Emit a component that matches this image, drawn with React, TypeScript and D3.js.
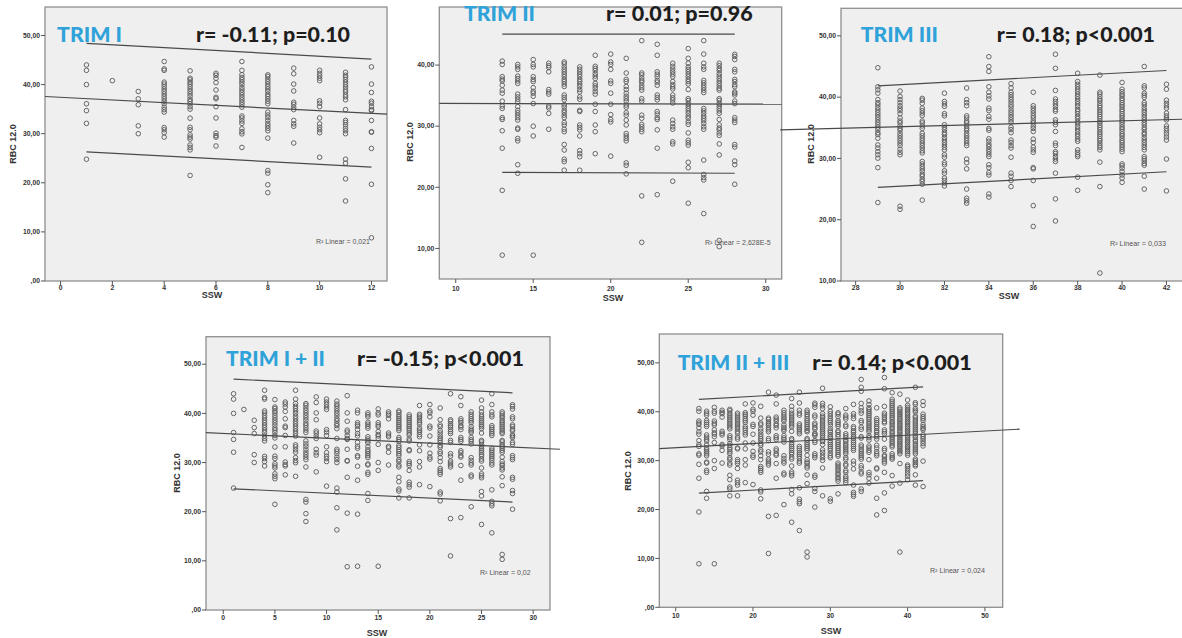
import React from "react";
import * as d3 from "d3";

type Col = [number, number[]];

// ---------- DATA (SSW week, RBC 12.0 values) ----------
const TRIM1: Col[] = [
  [1, [44.0, 42.9, 40.0, 36.1, 34.7, 32.1, 24.8]],
  [2, [40.8]],
  [3, [38.6, 37.1, 35.9, 31.6, 30.0]],
  [4, [44.7, 43.2, 42.9, 40.5, 40.1, 39.6, 39.1, 38.6, 38.1, 37.6, 37.1, 36.6, 36.1, 35.4, 34.9, 34.4, 31.25, 30.8, 30.2, 29.3]],
  [5, [42.8, 41.3, 40.97, 40.5, 40.1, 39.6, 39.1, 38.6, 38.1, 37.6, 37.0, 36.6, 36.1, 35.5, 35.0, 33.16, 31.3, 30.8, 29.76, 29.3, 28.9, 27.7, 27.2, 26.7, 21.5]],
  [6, [42.3, 41.9, 41.3, 40.4, 38.9, 37.4, 37.1, 35.5, 33.2, 30.1, 29.6, 29.3, 27.5]],
  [7, [44.7, 42.9, 42.0, 41.45, 41.0, 40.5, 40.0, 39.4, 38.9, 38.4, 37.9, 37.4, 36.9, 36.4, 35.9, 35.4, 33.6, 33.2, 32.6, 32.1, 31.0, 30.4, 29.96, 27.2]],
  [8, [41.99, 41.65, 41.1, 40.6, 40.1, 39.6, 39.1, 38.6, 38.0, 37.6, 37.1, 36.6, 36.1, 34.4, 33.8, 33.3, 32.7, 32.1, 31.6, 31.1, 30.6, 29.1, 22.5, 21.97, 19.6, 18.0]],
  [9, [43.35, 42.2, 40.1, 38.7, 36.4, 36.0, 35.4, 34.9, 32.7, 32.0, 31.5, 28.1]],
  [10, [42.9, 42.3, 41.8, 41.3, 40.8, 36.7, 36.2, 35.5, 33.2, 32.0, 31.3, 30.8, 30.2, 25.2]],
  [11, [42.5, 41.9, 41.5, 41.0, 40.5, 40.0, 39.5, 38.9, 38.5, 37.9, 37.5, 36.9, 34.9, 32.7, 32.3, 31.8, 31.1, 30.6, 30.0, 24.8, 24.0, 20.8, 16.3]],
  [12, [43.6, 40.1, 38.4, 36.6, 36.2, 35.5, 34.9, 34.7, 32.7, 30.4, 30.3, 27.0, 19.7, 8.8]],
];

const TRIM2: Col[] = [
  [13, [40.65, 40.1, 38.1, 37.7, 37.4, 36.7, 35.9, 35.4, 34.1, 33.3, 32.9, 31.4, 31.1, 29.25, 26.4, 19.5, 8.9]],
  [14, [40.1, 39.7, 39.3, 38.2, 37.8, 37.4, 37.0, 35.25, 34.8, 34.4, 34.0, 33.2, 32.6, 32.2, 31.8, 31.4, 31.0, 29.7, 29.5, 28.0, 27.6, 23.7, 22.3]],
  [15, [40.9, 40.1, 39.7, 38.1, 37.65, 37.3, 36.3, 35.7, 35.4, 34.9, 33.7, 30.0, 28.4, 8.9]],
  [16, [40.3, 39.9, 39.6, 38.9, 36.0, 35.6, 35.25, 33.3, 33.0, 32.1, 29.5]],
  [17, [40.5, 40.2, 39.7, 39.3, 38.9, 38.5, 38.1, 37.65, 37.3, 36.9, 36.5, 35.1, 34.7, 34.3, 33.5, 33.1, 32.6, 32.25, 31.8, 31.4, 30.6, 30.2, 29.5, 29.1, 27.0, 26.1, 24.6, 24.2, 22.8]],
  [18, [39.7, 39.3, 38.9, 38.5, 38.1, 37.65, 37.3, 36.9, 36.5, 36.0, 35.6, 34.8, 34.4, 32.6, 32.4, 30.2, 29.8, 29.4, 28.4, 26.0, 25.5, 25.0, 22.8]],
  [19, [41.6, 39.8, 39.45, 39.1, 38.6, 38.2, 37.8, 37.0, 36.6, 36.2, 35.7, 35.25, 33.6, 32.4, 30.2, 29.1, 25.5]],
  [20, [41.8, 40.5, 40.1, 39.3, 37.4, 37.0, 35.4, 33.6, 31.9, 31.1, 30.7, 25.1]],
  [21, [41.1, 38.7, 37.65, 37.3, 36.5, 36.0, 35.4, 34.9, 34.5, 34.1, 33.45, 33.1, 32.2, 31.8, 31.0, 30.2, 28.8, 28.4, 28.0, 27.6, 24.0, 23.6, 22.2]],
  [22, [44.0, 38.7, 38.4, 37.9, 37.5, 37.2, 36.7, 36.3, 35.9, 34.5, 34.1, 31.8, 31.3, 30.3, 29.9, 29.5, 29.1, 18.6, 11.0]],
  [23, [43.4, 41.6, 38.9, 38.5, 38.1, 37.5, 37.2, 36.7, 35.1, 34.7, 34.3, 32.4, 32.0, 31.4, 31.1, 29.4, 26.4, 18.8]],
  [24, [40.3, 39.8, 39.35, 38.9, 38.5, 38.1, 37.3, 36.8, 36.45, 36.1, 35.1, 34.65, 34.3, 33.8, 31.0, 30.45, 29.9, 29.5, 27.45, 27.1, 21.0]],
  [25, [42.7, 41.1, 40.3, 39.7, 39.3, 38.9, 38.5, 38.1, 37.65, 37.3, 36.9, 36.0, 34.5, 34.2, 33.7, 33.3, 32.9, 32.5, 32.1, 31.65, 31.3, 30.7, 30.3, 28.9, 27.7, 27.3, 26.9, 24.1, 23.2, 17.4]],
  [26, [44.0, 41.8, 40.3, 39.7, 39.3, 37.5, 37.1, 36.7, 36.3, 35.9, 35.5, 32.9, 32.5, 32.1, 31.65, 31.3, 30.9, 30.45, 29.9, 29.5, 24.45, 22.1, 21.6, 21.2, 15.7]],
  [27, [40.3, 39.9, 39.45, 39.1, 38.6, 38.2, 37.8, 37.4, 37.0, 36.6, 36.2, 35.9, 34.5, 34.2, 33.7, 33.3, 32.9, 32.5, 32.1, 31.1, 30.2, 29.7, 29.4, 28.9, 28.5, 27.1, 25.3, 11.3, 10.3]],
  [28, [41.75, 41.4, 40.9, 39.3, 38.9, 37.65, 37.3, 36.8, 36.45, 35.6, 35.4, 35.1, 34.1, 33.7, 31.4, 31.0, 30.6, 27.0, 26.6, 24.3, 23.7, 20.5]],
];

const TRIM3: Col[] = [
  [29, [44.8, 41.7, 41.2, 40.65, 39.6, 39.1, 38.75, 38.3, 37.9, 37.5, 37.1, 36.7, 36.3, 35.9, 35.5, 35.1, 34.7, 34.2, 33.9, 33.3, 32.2, 31.7, 31.1, 30.6, 30.05, 28.5, 22.8]],
  [30, [41.0, 40.1, 39.6, 39.1, 38.6, 38.2, 37.8, 37.3, 36.6, 36.1, 35.8, 35.3, 34.9, 34.6, 34.1, 33.7, 33.3, 32.9, 32.5, 32.1, 31.5, 31.0, 30.6, 22.2, 21.7]],
  [31, [39.8, 39.5, 39.0, 38.2, 37.8, 37.4, 37.0, 36.1, 35.8, 35.3, 34.9, 34.1, 33.7, 33.3, 32.9, 32.5, 32.1, 31.7, 31.25, 30.9, 29.5, 29.1, 28.7, 28.3, 27.9, 27.4, 27.1, 26.6, 26.25, 25.8, 23.2]],
  [32, [40.65, 39.3, 38.9, 38.5, 37.3, 36.95, 35.5, 35.1, 34.7, 34.2, 33.9, 33.4, 33.0, 32.6, 32.2, 31.8, 31.4, 30.6, 30.2, 29.3, 28.97, 27.99, 27.6, 26.8, 26.4, 25.98, 25.5]],
  [33, [41.5, 39.6, 39.1, 38.6, 36.95, 36.6, 36.1, 35.8, 35.3, 34.9, 34.6, 34.1, 33.7, 33.3, 32.9, 32.5, 32.1, 29.9, 29.3, 28.3, 25.0, 23.5, 23.1, 22.7]],
  [34, [46.6, 45.0, 44.2, 41.7, 40.8, 40.2, 39.7, 38.2, 37.8, 36.85, 36.4, 34.9, 34.6, 33.2, 32.8, 32.3, 31.95, 31.5, 31.1, 30.7, 30.3, 28.97, 28.5, 27.7, 27.3, 24.2, 23.7]],
  [35, [42.2, 41.5, 40.8, 40.4, 40.0, 39.6, 39.2, 38.75, 38.4, 37.9, 37.5, 37.1, 36.7, 36.3, 35.9, 35.1, 34.7, 34.2, 33.0, 32.6, 32.1, 31.7, 30.2, 27.6, 27.1, 26.4, 25.4]],
  [36, [40.8, 38.6, 38.2, 37.8, 37.4, 36.95, 36.6, 36.1, 35.8, 35.3, 34.9, 34.4, 33.15, 32.6, 31.85, 31.4, 31.0, 28.5, 28.3, 26.4, 22.3, 18.9]],
  [37, [47.0, 44.7, 41.1, 39.7, 39.3, 38.9, 38.5, 38.0, 37.7, 36.3, 35.9, 35.5, 34.4, 32.5, 32.1, 31.1, 30.8, 30.3, 29.9, 29.5, 27.6, 23.4, 19.8]],
  [38, [43.9, 42.55, 42.1, 41.7, 41.3, 40.9, 40.5, 40.1, 39.7, 39.3, 38.9, 38.5, 38.0, 37.7, 37.3, 36.85, 36.5, 36.0, 35.65, 35.2, 34.8, 34.4, 33.97, 33.6, 33.15, 32.8, 31.4, 30.98, 30.6, 30.3, 26.95, 24.8]],
  [39, [43.6, 40.8, 40.5, 40.1, 39.7, 39.4, 39.0, 38.6, 38.3, 37.9, 37.55, 37.2, 36.85, 36.5, 36.1, 35.8, 35.4, 35.05, 34.7, 34.3, 33.97, 33.6, 33.2, 32.9, 32.5, 32.1, 31.8, 31.4, 29.4, 25.4, 11.3]],
  [40, [42.4, 41.3, 40.9, 40.5, 40.2, 39.8, 39.5, 39.1, 38.75, 38.4, 38.0, 37.7, 37.3, 36.95, 36.6, 36.2, 35.9, 35.5, 35.1, 34.8, 34.4, 34.0, 33.7, 33.3, 32.9, 32.6, 32.2, 31.85, 31.5, 31.1, 29.1, 28.8, 28.4, 27.9, 27.3, 26.8, 26.1]],
  [41, [45.0, 41.85, 41.5, 40.65, 40.3, 39.95, 39.1, 38.75, 38.3, 37.9, 37.5, 37.1, 36.7, 36.3, 35.9, 35.5, 35.05, 34.7, 34.2, 33.9, 33.4, 33.0, 32.6, 32.2, 31.8, 31.4, 30.3, 29.95, 29.6, 29.2, 28.9, 27.1, 25.0]],
  [42, [42.1, 41.3, 39.5, 39.0, 38.6, 38.2, 37.4, 36.95, 36.6, 36.3, 35.3, 34.9, 34.5, 34.0, 33.5, 33.0, 29.9, 24.7]],
];

const TRIM12: Col[] = [...TRIM1, ...TRIM2];
const TRIM23: Col[] = [...TRIM2, ...TRIM3];

// fit lines: [x0, y0, x1, y1] in data units (mean line, upper & lower 95% lines)
const FIT1 = { mean: [-0.6, 37.57, 12.6, 33.97], upper: [1, 48.4, 12, 45.2], lower: [1, 26.3, 12, 23.2] };
const FIT2 = { mean: [8.94, 33.73, 31.03, 33.6], upper: [13, 45.07, 28, 45.07], lower: [13, 22.44, 28, 22.3] };
const FIT3 = { mean: [24.6, 34.67, 42.79, 36.4], upper: [29, 41.85, 42, 44.35], lower: [29, 25.27, 42, 27.83] };
const FIT12 = { mean: [-1.67, 36.08, 32.6, 32.7], upper: [1, 46.96, 28, 44.19], lower: [1, 24.66, 28, 21.96] };
const FIT23 = { mean: [7.88, 32.47, 54.5, 36.44], upper: [13, 42.53, 42, 45.07], lower: [13, 23.36, 42, 25.89] };

const TITLES = ["TRIM I", "TRIM II", "TRIM III", "TRIM I + II", "TRIM II + III"];
const STATS = ["r= -0.11; p=0.10", "r= 0.01; p=0.96", "r= 0.18; p<0.001", "r= -0.15; p<0.001", "r= 0.14; p<0.001"];
const R2 = ["0,021", "2,628E-5", "0,033", "0,02", "0,024"];
const XTICKS = [[0, 2, 4, 6, 8, 10, 12], [10, 15, 20, 25, 30], [28, 30, 32, 34, 36, 38, 40, 42], [0, 5, 10, 15, 20, 25, 30], [10, 20, 30, 40, 50]];
const YTICKS = [[0, 10, 20, 30, 40, 50], [10, 20, 30, 40], [10, 20, 30, 40, 50], [0, 10, 20, 30, 40, 50], [0, 10, 20, 30, 40, 50]];

// ---------- LAYOUT ----------
const LAYOUT = [
  { data: TRIM1, fit: FIT1, box: [45, 7, 387, 281], xd: [-0.6, 12.6], yd: [0, 55.8],
    title: { x: 57, y: 41.7, w: 65, fs: 21 }, stat: { x: 196, y: 41.7, w: 154 },
    r2: { x: 316, y: 244, w: 54 }, ylab: { x: 15.5, y: 144 }, xlab: { x: 212, y: 297.5 }, xtY: 290 },
  { data: TRIM2, fit: FIT2, box: [439.3, 7, 781.7, 279], xd: [8.94, 31.03], yd: [5, 49.5],
    title: { x: 464, y: 20.7, w: 71, fs: 20 }, stat: { x: 606, y: 20.7, w: 146.7 },
    r2: { x: 705, y: 244.5, w: 65.7 }, ylab: { x: 413, y: 142 }, xlab: { x: 613, y: 301 }, xtY: 291 },
  { data: TRIM3, fit: FIT3, box: [841, 8.3, 1184, 281], xd: [27.34, 42.79], yd: [10, 54.5],
    title: { x: 860.7, y: 41.7, w: 77.3, fs: 21 }, stat: { x: 996.7, y: 41.7, w: 158.3 },
    r2: { x: 1110, y: 245.5, w: 56 }, ylab: { x: 814, y: 144 }, xlab: { x: 1009, y: 298.5 }, xtY: 290 },
  { data: TRIM12, fit: FIT12, box: [206, 336.7, 550, 610], xd: [-1.67, 31.63], yd: [0, 55.6],
    title: { x: 226, y: 365.7, w: 99, fs: 21 }, stat: { x: 357, y: 365.7, w: 167 },
    r2: { x: 480, y: 574.5, w: 50.7 }, ylab: { x: 180, y: 473 }, xlab: { x: 377, y: 636 }, xtY: 619.5 },
  { data: TRIM23, fit: FIT23, box: [659.3, 334, 1002.7, 607.3], xd: [7.88, 52.3], yd: [0, 55.9],
    title: { x: 677.7, y: 370, w: 111.6, fs: 20.5 }, stat: { x: 812.3, y: 370, w: 159.4 },
    r2: { x: 930, y: 572.5, w: 55 }, ylab: { x: 631, y: 471 }, xlab: { x: 831, y: 633.5 }, xtY: 618 },
];

const fmtY = (v: number) => (v === 0 ? ",00" : v.toFixed(2).replace(".", ","));

function Panel({ i }: { i: number }) {
  const L = LAYOUT[i];
  const [x0, y0, x1, y1] = L.box;
  const x = d3.scaleLinear().domain(L.xd).range([x0, x1]);
  const y = d3.scaleLinear().domain(L.yd).range([y1, y0]);
  const line = d3.line<[number, number]>().x((d) => x(d[0])).y((d) => y(d[1]));
  const seg = (s: number[]) => line([[s[0], s[1]], [s[2], s[3]]]) || "";
  const pts: [number, number][] = [];
  L.data.forEach(([w, vals]) => vals.forEach((v) => pts.push([w, v])));
  const axisFont = "Arial, 'Liberation Sans', sans-serif";
  const titleFont = "Lato, 'Open Sans', sans-serif";
  return (
    <g>
      <rect x={x0} y={y0} width={x1 - x0} height={y1 - y0} fill="#f0efef" stroke="#8e8e8e" strokeWidth={1.3} />
      {YTICKS[i].map((t) => (
        <g key={"y" + t}>
          <line x1={x0 - 4} x2={x0} y1={y(t)} y2={y(t)} stroke="#555" strokeWidth={1} />
          <text x={x0 - 5} y={y(t)} dy="0.33em" textAnchor="end" fontSize={6.8} fontWeight="bold" fontFamily={axisFont} fill="#333">{fmtY(t)}</text>
        </g>
      ))}
      {XTICKS[i].map((t) => (
        <g key={"x" + t}>
          <line x1={x(t)} x2={x(t)} y1={y1} y2={y1 + 4} stroke="#555" strokeWidth={1} />
          <text x={x(t)} y={L.xtY} textAnchor="middle" fontSize={6.8} fontWeight="bold" fontFamily={axisFont} fill="#333">{t}</text>
        </g>
      ))}
      {pts.map((p, k) => (
        <circle key={k} cx={x(p[0])} cy={y(p[1])} r={2.3} fill="none" stroke="#5f5f5f" strokeWidth={0.95} />
      ))}
      <path d={seg(L.fit.mean)} stroke="#4a4a4a" strokeWidth={1.2} fill="none" />
      <path d={seg(L.fit.upper)} stroke="#4a4a4a" strokeWidth={1.2} fill="none" />
      <path d={seg(L.fit.lower)} stroke="#4a4a4a" strokeWidth={1.2} fill="none" />
      <text x={L.r2.x} y={L.r2.y} fontSize={6.5} fontFamily={axisFont} fill="#555" textLength={L.r2.w} lengthAdjust="spacingAndGlyphs">
        {"R² Linear = " + R2[i]}
      </text>
      <text x={L.title.x} y={L.title.y} fontSize={L.title.fs} fontWeight={900} fontFamily={titleFont} fill="#2ea2d9" textLength={L.title.w} lengthAdjust="spacingAndGlyphs">
        {TITLES[i]}
      </text>
      <text x={L.stat.x} y={L.stat.y} fontSize={L.title.fs} fontWeight={900} fontFamily={titleFont} fill="#1e1e1e" textLength={L.stat.w} lengthAdjust="spacingAndGlyphs">
        {STATS[i]}
      </text>
      <text transform={`translate(${L.ylab.x},${L.ylab.y}) rotate(-90)`} textAnchor="middle" fontSize={9} fontWeight="bold" fontFamily={axisFont} fill="#333">RBC 12.0</text>
      <text x={L.xlab.x} y={L.xlab.y} textAnchor="middle" fontSize={9} fontWeight="bold" fontFamily={axisFont} fill="#333">SSW</text>
    </g>
  );
}

export default function App() {
  return (
    <svg width={1182} height={638} style={{ position: "absolute", left: 0, top: 0, background: "#fff" }}>
      {LAYOUT.map((_, i) => (
        <Panel key={i} i={i} />
      ))}
    </svg>
  );
}
